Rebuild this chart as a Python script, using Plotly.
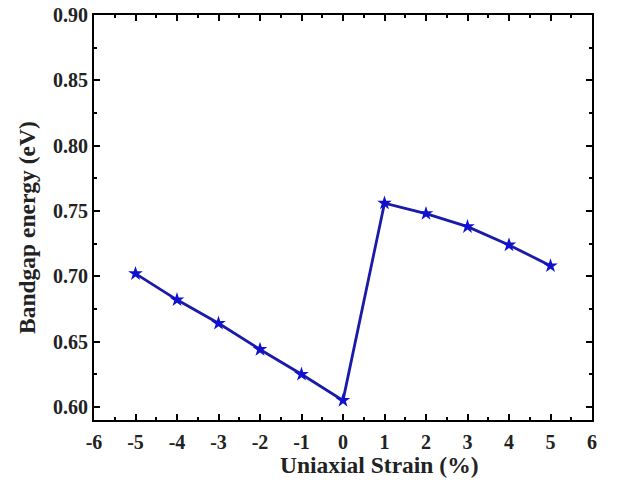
import plotly.graph_objects as go

# Bandgap energy vs. uniaxial strain
strain = [-5, -4, -3, -2, -1, 0, 1, 2, 3, 4, 5]
bandgap = [0.702, 0.682, 0.664, 0.644, 0.625, 0.605, 0.756, 0.748, 0.738, 0.724, 0.708]

x_ticks = [-6, -5, -4, -3, -2, -1, 0, 1, 2, 3, 4, 5, 6]
x_tick_labels = ["-6", "-5", "-4", "-3", "-2", "-1", "0", "1", "2", "3", "4", "5", "6"]
y_ticks = [0.60, 0.65, 0.70, 0.75, 0.80, 0.85, 0.90]
y_tick_labels = ["0.60", "0.65", "0.70", "0.75", "0.80", "0.85", "0.90"]

x_title = "Uniaxial Strain (%)"
y_title = "Bandgap energy (eV)"

FONT = "Liberation Serif"
TEXT_COLOR = "#222222"
LINE_COLOR = "#1a1aa8"

fig = go.Figure(
    go.Scatter(
        x=strain,
        y=bandgap,
        mode="lines+markers",
        line=dict(color=LINE_COLOR, width=2.8),
        marker=dict(symbol="star", size=11, color="#1010d0",
                    line=dict(color="#1010d0", width=0)),
        showlegend=False,
    )
)

axis_common = dict(
    showgrid=False,
    zeroline=False,
    showline=True,
    linecolor="black",
    linewidth=2,
    mirror="ticks",
    ticks="inside",
    ticklen=6,
    tickwidth=2,
    tickcolor="black",
    automargin=False,
    tickfont=dict(family=FONT, size=20, color=TEXT_COLOR, weight="bold"),
)

fig.update_xaxes(
    range=[-6, 6],
    tickvals=x_ticks,
    ticktext=x_tick_labels,
    minor=dict(dtick=0.5, tick0=0, ticks="inside", ticklen=3, tickwidth=2, tickcolor="black"),
    ticklabelstandoff=3,
    **axis_common,
)
fig.update_yaxes(
    range=[0.59, 0.90],
    tickvals=y_ticks,
    ticktext=y_tick_labels,
    minor=dict(dtick=0.025, tick0=0.6, ticks="inside", ticklen=3, tickwidth=2, tickcolor="black"),
    **axis_common,
)

# Axis titles placed as paper-anchored annotations
title_font = dict(family=FONT, size=23.5, color=TEXT_COLOR, weight="bold")
fig.add_annotation(text=x_title, xref="paper", yref="paper", x=0.573, y=-0.111,
                   xanchor="center", yanchor="middle", showarrow=False, font=title_font)
fig.add_annotation(text=y_title, xref="paper", yref="paper", x=-0.1345, y=0.474,
                   xanchor="center", yanchor="middle", textangle=-90, showarrow=False,
                   font=title_font)

fig.update_layout(
    width=620,
    height=484,
    margin=dict(l=94, r=28, t=15, b=64),
    paper_bgcolor="white",
    plot_bgcolor="white",
    font=dict(family=FONT, color=TEXT_COLOR),
)

fig.write_html("out.html")
